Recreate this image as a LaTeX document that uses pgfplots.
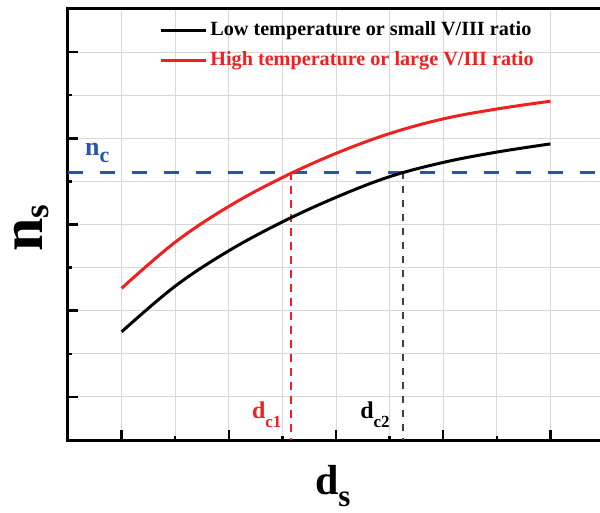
\documentclass[border=0pt]{standalone}
\usepackage{pgfplots}
\pgfplotsset{compat=1.18}
\usepackage{fontspec}
\setmainfont{Liberation Serif}
\definecolor{myred}{RGB}{240,32,32}
\definecolor{myblue}{RGB}{40,86,166}
\definecolor{gridgray}{RGB}{216,216,216}
\begin{document}
\begin{tikzpicture}
\begin{axis}[
  at={(68pt,72pt)}, anchor=south west,
  scale only axis, width=536pt, height=431pt,
  xmin=0, xmax=10, ymin=0, ymax=10,
  xtick={1,3,5,7,9}, minor xtick={2,4,6,8},
  ytick={1,3,5,7,9}, minor ytick={2,4,6,8},
  xticklabels={}, yticklabels={},
  tick pos=left, tick align=inside,
  major tick length=10pt, minor tick length=4.5pt,
  tick style={black, line width=2.5pt},
  grid=both,
  major grid style={gridgray, line width=0.9pt},
  minor grid style={gridgray, line width=0.9pt},
  axis line style={line width=3pt},
  clip mode=individual,
  legend style={draw=none, fill=none, at={(axis description cs:0.17,0.98)}, anchor=north west,
    font=\bfseries\fontsize{20.2}{24}\selectfont, inner sep=0pt, row sep=4pt,
    nodes={inner sep=3pt, text height=15pt, text depth=5pt}},
  legend cell align=left,
  legend image code/.code={\draw[#1] (0pt,0pt) -- (45pt,0pt);},
]
\addplot[myblue, line width=3pt, dash pattern=on 15pt off 17pt, forget plot] coordinates {(0,6.21) (10,6.21)};
\addplot[myred, line width=2pt, dash pattern=on 8pt off 6pt, forget plot] coordinates {(4.16,6.21) (4.16,0)};
\addplot[black!75, line width=1.3pt, dash pattern=on 7pt off 7pt, forget plot] coordinates {(6.25,6.21) (6.25,0)};
\addplot[black, line width=3pt, smooth, tension=0.6] coordinates {(1,2.51) (2,3.57) (3,4.39) (4,5.06) (5,5.63) (6,6.11) (7,6.44) (8,6.68) (9,6.87)};
\addlegendentry{Low temperature or small V/III ratio}
\addplot[myred, line width=3pt, smooth, tension=0.6] coordinates {(1,3.52) (2,4.59) (3,5.42) (4,6.09) (5,6.65) (6,7.11) (7,7.45) (8,7.68) (9,7.86)};
\addlegendentry{\textcolor{myred}{High temperature or large V/III ratio}}
\node[rotate=90, anchor=base, inner sep=0pt, font=\bfseries\fontsize{60}{60}\selectfont] at (axis description cs:-0.0485,0.492) {n\raisebox{-6pt}{\fontsize{35}{35}\selectfont s}};
\node[anchor=base, inner sep=0pt, font=\bfseries\fontsize{42}{42}\selectfont] at (axis description cs:0.494,-0.1276) {d\raisebox{-12pt}{\fontsize{31}{31}\selectfont s}};
\node[anchor=base west, inner sep=0pt, text=myblue, font=\bfseries\fontsize{26}{26}\selectfont] at (axis description cs:0.0317,0.659) {n\raisebox{-7pt}{\fontsize{22}{22}\selectfont c}};
\node[anchor=base west, inner sep=0pt, text=myred, font=\bfseries\fontsize{24}{24}\selectfont] at (axis description cs:0.343,0.051) {d\raisebox{-9pt}{\fontsize{17}{17}\selectfont c1}};
\node[anchor=base west, inner sep=0pt, text=black, font=\bfseries\fontsize{24}{24}\selectfont] at (axis description cs:0.545,0.051) {d\raisebox{-9pt}{\fontsize{17}{17}\selectfont c2}};
\end{axis}
\pgfresetboundingbox
\useasboundingbox (0,0) rectangle (600pt,512pt);
\end{tikzpicture}
\end{document}
